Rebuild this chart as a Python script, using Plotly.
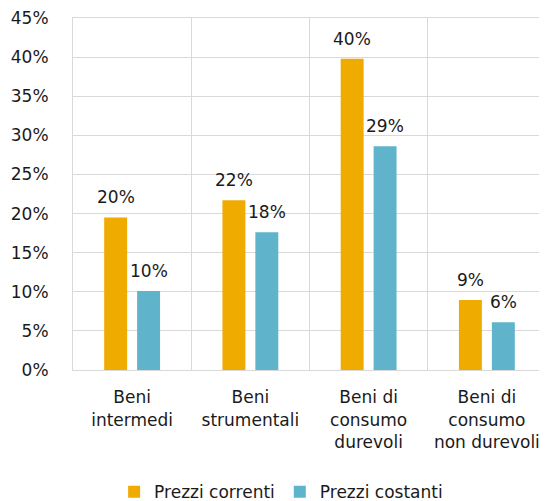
import plotly.graph_objects as go

# ── Data ─────────────────────────────────────────────────────────────────────
categories = [
    "Beni<br>intermedi",
    "Beni<br>strumentali",
    "Beni di<br>consumo<br>durevoli",
    "Beni di<br>consumo<br>non durevoli",
]
prezzi_correnti = [19.5, 21.7, 39.8, 8.95]
prezzi_costanti = [10.1, 17.6, 28.6, 6.1]

ORANGE = "#F0AB00"
BLUE = "#5FB4CC"
GRID = "#D9D9D9"
FONT = "DejaVu Sans"
TXT = "#1a1a1a"

# page has an 8px body margin, so the figure is shrunk to fit the window
fig = go.Figure()
series = [
    ("Prezzi correnti", prezzi_correnti, ORANGE, -16.5),
    ("Prezzi costanti", prezzi_costanti, BLUE, 16.5),
]
for name, vals, color, shift in series:
    fig.add_trace(go.Bar(
        x=categories,
        y=vals,
        name=name,
        marker=dict(color=color, line=dict(width=0)),
        cliponaxis=False,
        hoverinfo="name+y",
    ))
    # value labels sitting a little above each bar
    for cat, v in zip(categories, vals):
        fig.add_annotation(
            x=cat, y=v, xref="x", yref="y",
            text=f"{v:.0f}%",
            showarrow=False,
            xshift=shift, yshift=8,
            yanchor="bottom",
            font=dict(size=17, color=TXT, family=FONT),
        )

fig.update_layout(
    width=539,
    height=493,
    margin=dict(l=65, r=1, t=10, b=131, autoexpand=False),
    barmode="group",
    bargap=0.443,
    bargroupgap=0.303,
    plot_bgcolor="#ffffff",
    paper_bgcolor="#ffffff",
    font=dict(family=FONT, size=17, color=TXT),
    showlegend=True,
    legend=dict(
        orientation="h",
        x=0.44, xanchor="center",
        y=-0.347, yanchor="middle",
        font=dict(size=17),
        itemwidth=30,
        tracegroupgap=0,
    ),
)
fig.update_xaxes(
    type="category",
    tickson="boundaries",
    showgrid=True,
    gridcolor=GRID,
    gridwidth=1,
    ticks="",
    showline=True,
    linecolor=GRID,
    mirror=True,
    automargin=False,
    tickfont=dict(size=17),
    ticklabelstandoff=12,
)
fig.update_yaxes(
    range=[0, 45],
    dtick=5,
    ticksuffix="%",
    showgrid=True,
    gridcolor=GRID,
    gridwidth=1,
    zeroline=True,
    zerolinecolor=GRID,
    zerolinewidth=1,
    showline=True,
    linecolor=GRID,
    mirror=True,
    automargin=False,
    ticklabeloverflow="allow",
    ticklabelstandoff=20,
    tickfont=dict(size=17),
)

fig.write_html("out.html")
